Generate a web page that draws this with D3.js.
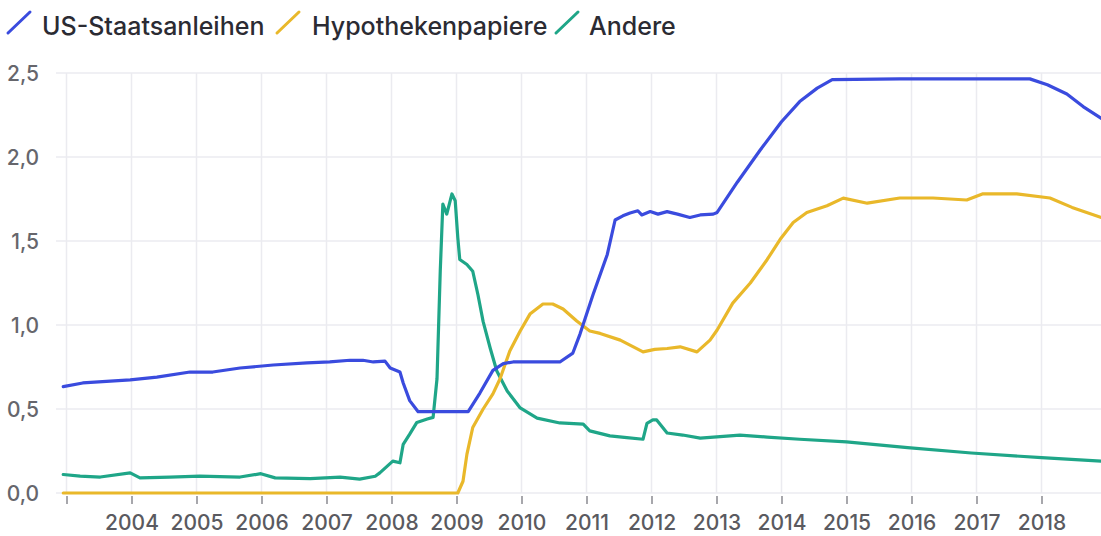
<html>
<head>
<meta charset="utf-8">
<style>
  body { margin: 0; background: #fff; font-family: Inter, "Noto Sans", sans-serif; }
  svg { display: block; }
</style>
<script src="https://cdn.jsdelivr.net/npm/d3@7"></script>
</head>
<body>
<svg id="chart"></svg>
<script>
// series names and colours
let seriesNames = ["US-Staatsanleihen", "Hypothekenpapiere", "Andere"]
let seriesColors = ["#3a4bde", "#e9b82a", "#1fa688"]

// US-Staatsanleihen (decimal year, value in Bio. USD)
let usYears = [2002.95, 2003.25, 2003.98, 2004.39, 2004.90, 2005.25, 2005.67, 2006.18, 2006.70, 2007.05,
  2007.36, 2007.56, 2007.72, 2007.90, 2007.98, 2008.13, 2008.18, 2008.28, 2008.41, 2008.75, 2009.18,
  2009.36, 2009.56, 2009.72, 2009.87, 2010.59, 2010.79, 2010.90, 2011.10, 2011.32, 2011.44, 2011.56,
  2011.67, 2011.79, 2011.85, 2011.98, 2012.10, 2012.24, 2012.40, 2012.59, 2012.75, 2012.95, 2013.01,
  2013.32, 2013.67, 2014.00, 2014.28, 2014.55, 2014.78, 2015.82, 2017.82, 2018.09, 2018.39, 2018.64, 2018.92]
let usValues = [0.633, 0.655, 0.673, 0.69, 0.72, 0.72, 0.744, 0.762, 0.774, 0.78,
  0.79, 0.79, 0.78, 0.785, 0.744, 0.72, 0.655, 0.55, 0.484, 0.484, 0.484,
  0.595, 0.73, 0.77, 0.78, 0.78, 0.833, 0.946, 1.18, 1.42, 1.625, 1.65,
  1.667, 1.68, 1.655, 1.675, 1.66, 1.675, 1.66, 1.64, 1.655, 1.66, 1.67,
  1.85, 2.04, 2.21, 2.33, 2.41, 2.46, 2.465, 2.465, 2.43, 2.375, 2.30, 2.23]

// Hypothekenpapiere
let mbsYears = [2002.95, 2009.02, 2009.10, 2009.16, 2009.25, 2009.41, 2009.56, 2009.67, 2009.82, 2009.98,
  2010.13, 2010.33, 2010.48, 2010.64, 2010.85, 2011.05, 2011.21, 2011.52, 2011.87, 2012.05, 2012.24,
  2012.44, 2012.70, 2012.90, 2013.01, 2013.25, 2013.52, 2013.78, 2013.98, 2014.18, 2014.39, 2014.70,
  2014.95, 2015.32, 2015.82, 2016.33, 2016.85, 2017.09, 2017.62, 2018.13, 2018.47, 2018.92]
let mbsValues = [0, 0, 0.07, 0.23, 0.39, 0.50, 0.59, 0.68, 0.845, 0.964,
  1.065, 1.125, 1.125, 1.095, 1.024, 0.964, 0.95, 0.91, 0.84, 0.855, 0.86,
  0.87, 0.84, 0.91, 0.97, 1.13, 1.25, 1.39, 1.51, 1.61, 1.67, 1.71,
  1.755, 1.725, 1.756, 1.756, 1.744, 1.78, 1.78, 1.756, 1.70, 1.64]

// Andere
let otherYears = [2002.95, 2003.21, 2003.52, 2003.98, 2004.13, 2004.59, 2005.05, 2005.67, 2005.99, 2006.21,
  2006.75, 2007.21, 2007.51, 2007.75, 2007.82, 2008.02, 2008.13, 2008.18, 2008.28, 2008.39, 2008.55,
  2008.64, 2008.70, 2008.75, 2008.79, 2008.85, 2008.93, 2008.98, 2009.02, 2009.05, 2009.16, 2009.25,
  2009.33, 2009.41, 2009.52, 2009.62, 2009.78, 2009.98, 2010.24, 2010.59, 2010.95, 2011.05, 2011.36,
  2011.62, 2011.87, 2011.93, 2012.02, 2012.08, 2012.24, 2012.48, 2012.75, 2013.36, 2013.78, 2014.28,
  2015.00, 2015.94, 2016.92, 2018.00, 2018.92]
let otherValues = [0.11, 0.10, 0.095, 0.12, 0.09, 0.095, 0.10, 0.095, 0.115, 0.09,
  0.085, 0.095, 0.083, 0.10, 0.12, 0.19, 0.18, 0.29, 0.35, 0.42, 0.44,
  0.45, 0.68, 1.32, 1.72, 1.66, 1.78, 1.74, 1.52, 1.39, 1.36, 1.32,
  1.18, 1.02, 0.86, 0.726, 0.607, 0.506, 0.446, 0.417, 0.41, 0.37, 0.34,
  0.33, 0.32, 0.415, 0.435, 0.435, 0.357, 0.345, 0.327, 0.345, 0.333, 0.32,
  0.304, 0.27, 0.238, 0.21, 0.19]

let yTicks = [0, 0.5, 1.0, 1.5, 2.0, 2.5]
let gridYears = d3.range(2003, 2019)
let labelYears = d3.range(2004, 2019)

function getConfig() {
  let width = 1101
  let height = 536
  let container = d3.select("#chart")
    .attr("width", width)
    .attr("height", height)
  return { width, height, container }
}

function getScales() {
  let xScale = d3.scaleLinear().domain([2003, 2018]).range([66.5, 1041.5])
  let yScale = d3.scaleLinear().domain([0, 2.5]).range([493, 73])
  return { xScale, yScale }
}

function drawGrid(config, scales) {
  let { container, width } = config
  let { xScale, yScale } = scales
  let deFormat = d3.formatLocale({ decimal: ",", thousands: ".", grouping: [3], currency: ["", "€"] }).format(".1f")

  container.append("g").selectAll("line.v").data(gridYears)
    .enter().append("line")
    .attr("x1", d => xScale(d)).attr("x2", d => xScale(d))
    .attr("y1", yScale(2.5)).attr("y2", yScale(0))
    .attr("stroke", "#ebebf0").attr("stroke-width", 1.5)

  container.append("g").selectAll("line.h").data(yTicks)
    .enter().append("line")
    .attr("x1", 56).attr("x2", width)
    .attr("y1", d => yScale(d)).attr("y2", d => yScale(d))
    .attr("stroke", "#ebebf0").attr("stroke-width", 1.5)

  // y labels
  container.append("g").selectAll("text").data(yTicks)
    .enter().append("text")
    .attr("x", 39).attr("y", d => yScale(d))
    .attr("dy", "0.36em")
    .attr("text-anchor", "end")
    .attr("font-size", 21).attr("font-weight", 500)
    .attr("fill", "#66666c")
    .text(d => deFormat(d))

  // x ticks + labels
  let axisX = d3.axisBottom(xScale)
    .tickValues(gridYears)
    .tickSize(8)
    .tickFormat(d => labelYears.includes(d) ? d : "")
  let gx = container.append("g")
    .attr("transform", `translate(0, ${yScale(0) + 3})`)
    .call(axisX)
  gx.select(".domain").remove()
  gx.selectAll(".tick line").attr("stroke", "#8a8a90").attr("stroke-width", 1.5)
  gx.selectAll(".tick text")
    .attr("y", 34).attr("dy", 0)
    .attr("font-family", "Inter, sans-serif")
    .attr("font-size", 21).attr("font-weight", 500)
    .attr("fill", "#5a5a60")
}

function drawLines(config, scales) {
  let { container } = config
  let { xScale, yScale } = scales
  let series = [
    { years: usYears, values: usValues },
    { years: mbsYears, values: mbsValues },
    { years: otherYears, values: otherValues }
  ]
  let line = d3.line()
    .x(d => xScale(d[0]))
    .y(d => yScale(d[1]))

  // draw order: Andere under, then Hypotheken, then US on top
  let order = [2, 1, 0]
  order.forEach(i => {
    let s = series[i]
    let pts = s.years.map((y, k) => [y, s.values[k]])
    container.append("path")
      .datum(pts)
      .attr("d", line)
      .attr("fill", "none")
      .attr("stroke", seriesColors[i])
      .attr("stroke-width", 3.2)
      .attr("stroke-linejoin", "round")
      .attr("stroke-linecap", "round")
  })
}

function drawLegend(config) {
  let { container } = config
  let legendX = [8, 277, 556]
  let textX = [42, 312, 589]
  let g = container.append("g")
  seriesNames.forEach((name, i) => {
    g.append("line")
      .attr("x1", legendX[i]).attr("y1", 33)
      .attr("x2", legendX[i] + 22).attr("y2", 12)
      .attr("stroke", seriesColors[i]).attr("stroke-width", 3)
      .attr("stroke-linecap", "round")
    g.append("text")
      .attr("x", textX[i]).attr("y", 35)
      .attr("font-size", 25).attr("font-weight", 500)
      .attr("fill", "#2b2b33")
      .text(name)
  })
}

let config = getConfig()
let scales = getScales()
drawGrid(config, scales)
drawLines(config, scales)
drawLegend(config)
</script>
</body>
</html>
